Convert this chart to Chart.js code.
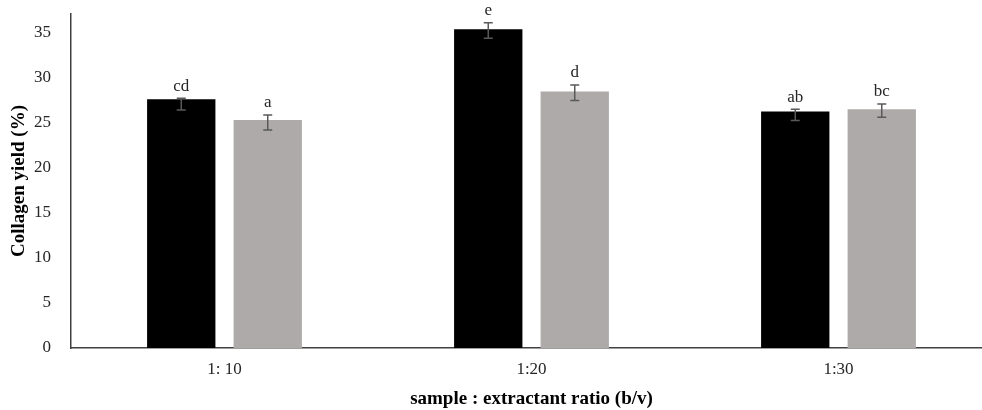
<!DOCTYPE html>
<html>
<head>
<meta charset="utf-8">
<script src="https://cdn.jsdelivr.net/npm/chart.js@4"></script>
<style>
  html, body { margin: 0; padding: 0; background: #fff; overflow: hidden; }
  #wrap { width: 1000px; height: 410px; }
</style>
</head>
<body>
<div id="wrap"><canvas id="c" width="1000" height="410"></canvas></div>
<script>
// ---- data ----
const categories = ['1: 10', '1:20', '1:30'];
const seriesA = [27.63, 35.41, 26.26];          // black bars
const seriesB = [25.33, 28.48, 26.52];          // grey bars
const errUpperA = [27.74, 36.14, 26.52];
const errLowerA = [26.44, 34.41, 25.26];
const errUpperB = [25.89, 29.22, 27.11];
const errLowerB = [24.22, 27.48, 25.63];
const lettersA = ['cd', 'e', 'ab'];
const lettersB = ['a', 'd', 'bc'];
const yTicks = [0, 5, 10, 15, 20, 25, 30, 35];

const serif = "'Liberation Serif', 'Times New Roman', serif";

const errorPlugin = {
  id: 'errorBarsLetters',
  afterDatasetsDraw(chart) {
    const ctx = chart.ctx;
    const y = chart.scales.y;
    const sets = [
      { up: errUpperA, lo: errLowerA, lab: lettersA },
      { up: errUpperB, lo: errLowerB, lab: lettersB }
    ];
    ctx.save();
    sets.forEach((s, di) => {
      const meta = chart.getDatasetMeta(di);
      meta.data.forEach((bar, i) => {
        const x = bar.x;
        const yt = y.getPixelForValue(s.up[i]);
        const yb = y.getPixelForValue(s.lo[i]);
        ctx.strokeStyle = '#595959';
        ctx.lineWidth = 1.5;
        ctx.beginPath();
        ctx.moveTo(x, yt); ctx.lineTo(x, yb);
        ctx.moveTo(x - 4.5, yt); ctx.lineTo(x + 4.5, yt);
        ctx.moveTo(x - 4.5, yb); ctx.lineTo(x + 4.5, yb);
        ctx.stroke();
        ctx.fillStyle = '#262626';
        ctx.font = '17px ' + serif;
        ctx.textAlign = 'center';
        ctx.textBaseline = 'middle';
        ctx.fillText(s.lab[i], x, yt - 12);
      });
    });
    ctx.restore();
  }
};

new Chart(document.getElementById('c'), {
  type: 'bar',
  data: {
    labels: categories,
    datasets: [
      { data: seriesA, backgroundColor: '#000000', categoryPercentage: 0.5635, barPercentage: 0.79 },
      { data: seriesB, backgroundColor: '#AEAAAA', categoryPercentage: 0.5635, barPercentage: 0.79 }
    ]
  },
  options: {
    responsive: false,
    devicePixelRatio: 1,
    animation: false,
    layout: { padding: { top: 14, right: 8, left: 0, bottom: 0 } },
    plugins: { legend: { display: false }, tooltip: { enabled: false } },
    scales: {
      x: {
        grid: { display: false, drawTicks: false },
        border: { display: true, color: '#404040', width: 1.5 },
        ticks: { color: '#262626', font: { family: serif, size: 17 }, padding: 11, maxRotation: 0 },
        title: {
          display: true,
          text: 'sample : extractant ratio (b/v)',
          color: '#000',
          font: { family: serif, size: 19, weight: 'bold' },
          padding: { top: 0, bottom: 0 }
        },
        afterFit(s) { s.height = 62; }
      },
      y: {
        min: 0,
        max: 37.1,
        grid: { display: false, drawTicks: false },
        border: { display: true, color: '#404040', width: 1.5 },
        ticks: { stepSize: 5, color: '#262626', font: { family: serif, size: 17 }, padding: 20 },
        afterBuildTicks(s) { s.ticks = yTicks.map(v => ({ value: v })); },
        title: {
          display: true,
          text: 'Collagen yield (%)',
          color: '#000',
          font: { family: serif, size: 19, weight: 'bold' },
          padding: { top: 8, bottom: 0 }
        },
        afterFit(s) { s.width = 71; s.paddingTop = 0; s.paddingBottom = 0; }
      }
    }
  },
  plugins: [errorPlugin]
});
</script>
</body>
</html>
